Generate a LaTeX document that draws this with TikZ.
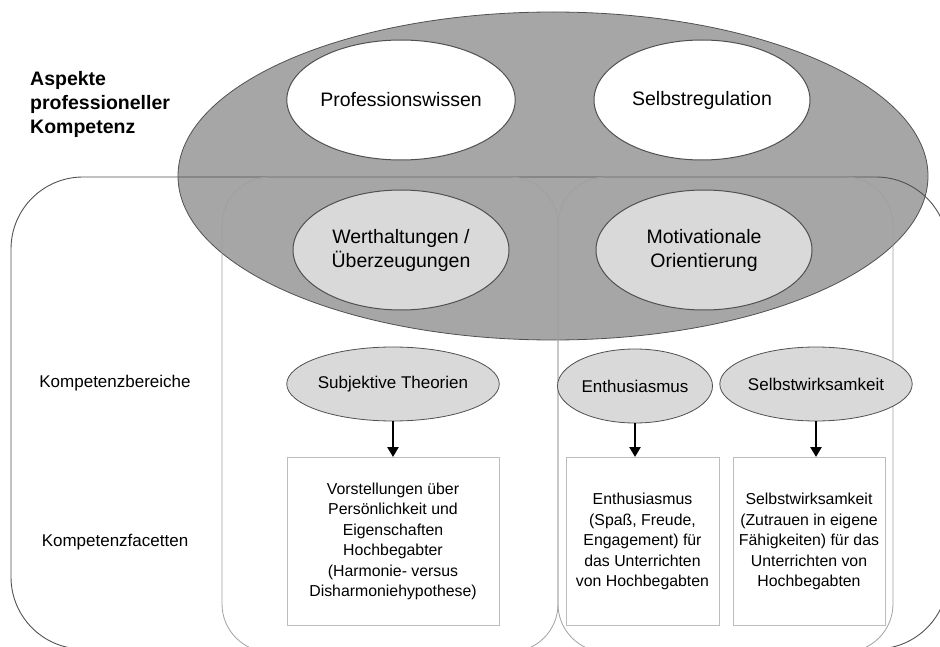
\documentclass[tikz,border=0pt]{standalone}
\usepackage{fontspec}
\setmainfont{Liberation Sans}
\usetikzlibrary{arrows.meta,shapes.geometric}
\definecolor{bigfill}{HTML}{A6A6A6}
\definecolor{lightfill}{HTML}{D9D9D9}
\definecolor{edgegray}{HTML}{505050}
\definecolor{colgray}{HTML}{A0A0A0}
\definecolor{boxgray}{HTML}{BDBDBD}
\tikzset{
  bigell/.style={ellipse, draw=edgegray, fill=bigfill, line width=0.8pt, minimum width=750pt, minimum height=328pt, inner sep=0pt},
  whiteell/.style={ellipse, draw=edgegray, fill=white, line width=1pt, minimum width=216pt, minimum height=120pt, inner sep=0pt, align=center, font=\fontsize{19.5pt}{24pt}\selectfont},
  grayell/.style={ellipse, draw=edgegray, fill=lightfill, line width=1pt, minimum width=216pt, minimum height=120pt, inner sep=0pt, align=center, font=\fontsize{19.5pt}{24pt}\selectfont},
  smallell/.style={ellipse, draw=edgegray, fill=lightfill, line width=0.8pt, minimum width=155pt, minimum height=74pt, inner sep=0pt, align=center, font=\fontsize{17pt}{20pt}\selectfont},
  facetbox/.style={rectangle, draw=boxgray, line width=0.9pt, minimum height=168pt, inner sep=0pt, align=center, font=\fontsize{15.85pt}{20.5pt}\selectfont},
  sidelabel/.style={inner sep=0pt, font=\fontsize{17pt}{20pt}\selectfont},
  arr/.style={-{Triangle[width=11pt,length=10pt]}, line width=2.6pt, black},
}
\begin{document}
\begin{tikzpicture}[x=1pt,y=-1pt]
\useasboundingbox (0,0) rectangle (940,647);
\begin{scope}
\clip (0,0) rectangle (940,647);
\node[bigell] (big) at (553,176) {};
\draw[edgegray, line width=0.9pt, rounded corners=72pt] (11,177) rectangle (948,649);
\draw[colgray, line width=0.8pt, rounded corners=48pt] (222,177) rectangle (558,652);
\draw[colgray, line width=0.8pt, rounded corners=48pt] (558,177) rectangle (893,652);
\end{scope}
\node[whiteell] (pw) at (401,100) {Professionswissen};
\node[whiteell] (sr) at (702,100) {Selbstregulation};
\node[grayell] (wu) at (401,250) {Werthaltungen /\\Überzeugungen};
\node[grayell] (mo) at (704,250) {Motivationale\\Orientierung};
\node[inner sep=0pt, align=left, font=\bfseries\fontsize{19.5pt}{24pt}\selectfont, anchor=west] (asp) at (30,104) {Aspekte\\professioneller\\Kompetenz};
\node[sidelabel] (kb) at (115,383) {Kompetenzbereiche};
\node[sidelabel] (kf) at (115,542) {Kompetenzfacetten};
\node[smallell] (st) at (393,384) {Subjektive Theorien};
\node[smallell] (en) at (635,386) {Enthusiasmus};
\node[smallell] (sw) at (816,384) {Selbstwirksamkeit};
\node[facetbox, minimum width=212pt, anchor=north] (b1) at (393,457) {Vorstellungen über\\Persönlichkeit und\\Eigenschaften\\Hochbegabter\\(Harmonie- versus\\Disharmoniehypothese)};
\node[facetbox, minimum width=153pt, anchor=north] (b2) at (642.5,457) {Enthusiasmus\\(Spaß, Freude,\\Engagement) für\\das Unterrichten\\von Hochbegabten};
\node[facetbox, minimum width=152pt, anchor=north] (b3) at (809,457) {Selbstwirksamkeit\\(Zutrauen in eigene\\Fähigkeiten) für das\\Unterrichten von\\Hochbegabten};
\draw[arr] (st.south) -- (st.south |- b1.north);
\draw[arr] (en.south) -- (en.south |- b2.north);
\draw[arr] (sw.south) -- (sw.south |- b3.north);
\end{tikzpicture}
\end{document}
